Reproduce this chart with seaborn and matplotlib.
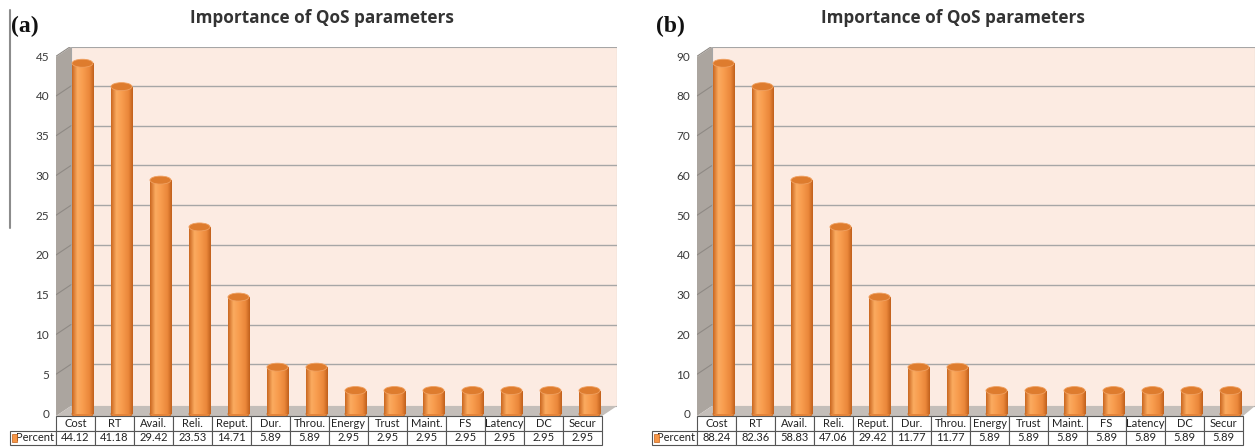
import numpy as np
import pandas as pd
import matplotlib
matplotlib.use("Agg")
import matplotlib.pyplot as plt
import seaborn as sns
from matplotlib.patches import Polygon, Ellipse, Rectangle
from matplotlib.lines import Line2D
from matplotlib.colors import LinearSegmentedColormap

# ----------------------------------------------
# data
categories = ["Cost", "RT", "Avail.", "Reli.", "Reput.", "Dur.", "Throu.",
              "Energy", "Trust", "Maint.", "FS", "Latency", "DC", "Secur"]
percent_a = [44.12, 41.18, 29.42, 23.53, 14.71, 5.89, 5.89,
             2.95, 2.95, 2.95, 2.95, 2.95, 2.95, 2.95]
percent_b = [88.24, 82.36, 58.83, 47.06, 29.42, 11.77, 11.77,
             5.89, 5.89, 5.89, 5.89, 5.89, 5.89, 5.89]
yticks_a = [0, 5, 10, 15, 20, 25, 30, 35, 40, 45]
yticks_b = [0, 10, 20, 30, 40, 50, 60, 70, 80, 90]
title = "Importance of QoS parameters"
series_name = "Percent"
# ----------------------------------------------

W, H = 1257, 447
sns.set_theme(style="white")
plt.rcParams["font.family"] = ["Lato", "DejaVu Sans"]

ORANGE = "#f79646"
cyl_cmap = LinearSegmentedColormap.from_list(
    "cyl", [(0.0, "#c9661f"), (0.25, "#fbab60"), (0.5, "#f89c4e"),
            (0.8, "#ea873a"), (1.0, "#c05f1b")])
grad = np.linspace(0, 1, 256)[None, :]

COL_W = 39      # px per table column
AX_TOP, AX_BOT = 47, 416
ZERO_PX = 414   # pixel row of value 0
TB_BOT = 445


def fig_rect(x0, y0, x1, y1):
    return [x0 / W, 1 - y1 / H, (x1 - x0) / W, (y1 - y0) / H]


def draw_panel(fig, values, yticks, px_per_unit, ax_left, ax_right,
               label_left, title_x, panel_label, panel_x):
    axw = ax_right - ax_left
    axh = AX_BOT - AX_TOP
    ax = fig.add_axes(fig_rect(ax_left, AX_TOP, ax_right, AX_BOT))
    ax.set_facecolor("white")
    for s in ax.spines.values():
        s.set_visible(False)

    ylo = -(AX_BOT - ZERO_PX) / px_per_unit
    yhi = (ZERO_PX - AX_TOP) / px_per_unit
    xmin = -(COL_W / 2 + 7) / COL_W
    xmax = xmin + axw / COL_W

    dx, dy = 15 / axw, 10 / axh
    table_right = ax_left + 14 * COL_W
    fx_front = (table_right - ax_left) / axw

    # 3D-ish walls
    ax.add_patch(Polygon([(dx, dy), (1, dy), (1, 1), (dx, 1)], closed=True,
                         transform=ax.transAxes, facecolor="#fcebe2",
                         edgecolor="#a6a6a6", lw=0.8, zorder=0))
    ax.add_patch(Polygon([(0, 0), (dx, dy), (dx, 1), (0, 1 - dy)], closed=True,
                         transform=ax.transAxes, facecolor="#aba59f",
                         edgecolor="none", zorder=0))
    ax.add_patch(Polygon([(0, 0), (dx, dy), (1, dy), (fx_front, 0)], closed=True,
                         transform=ax.transAxes, facecolor="#c4beb9",
                         edgecolor="none", zorder=0))

    # grid lines on back wall and left wall
    for v in yticks[1:]:
        fy = (v - ylo) / (yhi - ylo)
        ax.plot([0, dx], [fy, fy + dy], transform=ax.transAxes,
                color="#8e8984", lw=0.8, zorder=1)
        ax.plot([dx, 1], [fy + dy, fy + dy], transform=ax.transAxes,
                color="#a6a6a6", lw=1.0, zorder=1)

    df = pd.DataFrame({"Parameter": categories, "Percent": values})
    sns.barplot(data=df, x="Parameter", y="Percent", color=ORANGE,
                saturation=1, width=0.54, ax=ax, zorder=3)

    cap_h = 8 / px_per_unit
    for p in list(ax.patches):
        if not isinstance(p, Rectangle) or p.get_height() <= 0:
            continue
        x0, w, h = p.get_x(), p.get_width(), p.get_height()
        xc = x0 + w / 2
        p.set_edgecolor("none")
        im = ax.imshow(grad, extent=[x0, x0 + w, 0, h], aspect="auto",
                       cmap=cyl_cmap, zorder=3, interpolation="bilinear")
        im.set_clip_path(p)
        ax.add_patch(Ellipse((xc, 0), w, cap_h, facecolor="#e4843a",
                             edgecolor="#c0601a", lw=0.5, zorder=2.9))
        ax.add_patch(Ellipse((xc, h), w, cap_h, facecolor="#de7c2e",
                             edgecolor="#f0a060", lw=0.6, zorder=4))

    ax.set_xlim(xmin, xmax)
    ax.set_ylim(ylo, yhi)
    ax.set_yticks(yticks)
    ax.set_yticklabels([str(t) for t in yticks])
    ax.set_xticks([])
    ax.set_xlabel("")
    ax.set_ylabel("")
    ax.tick_params(axis="y", length=0, pad=5, labelsize=8.5,
                   labelcolor="#3a3a3a")

    # data table under the chart (bbox covers the data columns only;
    # the row-label column sits to its left)
    bbox = [0, -(TB_BOT - AX_BOT) / axh,
            (table_right - ax_left) / axw, (TB_BOT - AX_BOT) / axh]
    tb = ax.table(cellText=[[f"{v:.2f}" for v in values]],
                  colLabels=categories, rowLabels=[series_name],
                  colWidths=[COL_W / axw] * len(categories),
                  cellLoc="center", rowLoc="right", colLoc="center",
                  bbox=bbox)
    tb._autoColumns = []
    tb[1, -1].set_width((ax_left - label_left) / axw)
    tb[1, -1].PAD = 0.04
    tb.auto_set_font_size(False)
    tb.set_fontsize(8)
    for cell in tb.get_celld().values():
        cell.set_edgecolor("#555555")
        cell.set_linewidth(0.8)
        cell.get_text().set_color("#222222")

    # legend key square in the row label
    fig.add_artist(Rectangle(((label_left + 2) / W, 1 - 442 / H), 5 / W, 8 / H,
                             transform=fig.transFigure, facecolor=ORANGE,
                             edgecolor="#c0601a", lw=0.5))

    fig.text(title_x / W, 1 - 18 / H, title, ha="center", va="center",
             fontsize=12.3, fontweight="bold", color="#333333",
             family=["Open Sans", "DejaVu Sans"])
    fig.text(panel_x / W, 1 - 26 / H, panel_label, ha="left", va="center",
             fontsize=17, fontweight="bold", color="#111111",
             family=["Liberation Serif", "DejaVu Serif"])
    return ax


fig = plt.figure(figsize=(W / 100, H / 100), dpi=100)

draw_panel(fig, percent_a, yticks_a, 7.95, 56, 617, 10, 322, "(a)", 11)
draw_panel(fig, percent_b, yticks_b, 7.95 / 2, 697, 1255, 652, 953, "(b)", 656)

# stray frame line at the left edge of panel (a)
fig.add_artist(Line2D([10 / W, 10 / W], [1 - 10 / H, 1 - 228 / H],
                      transform=fig.transFigure, color="#8c8c8c", lw=1.5))

fig.savefig("out.png", dpi=100)
